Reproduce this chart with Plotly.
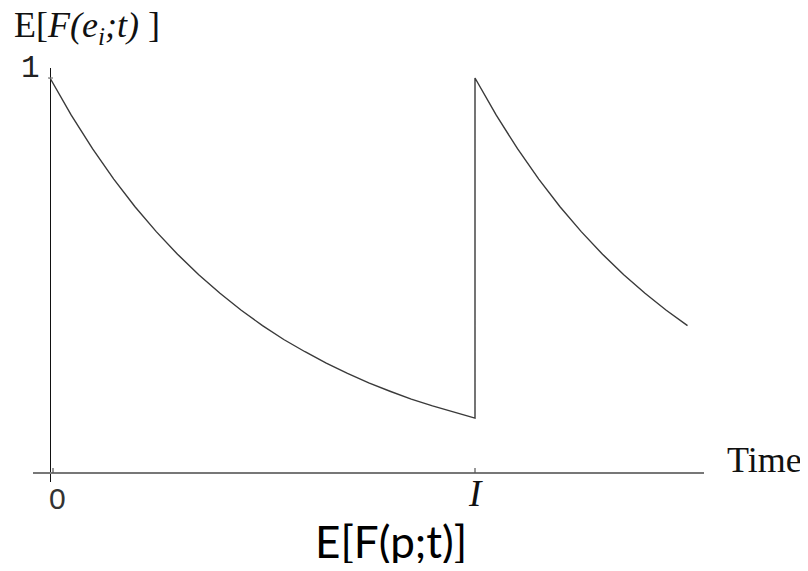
import plotly.graph_objects as go

# Values (time in units of the interval I)
seg1_t = [0.0, 0.05, 0.10, 0.15, 0.20, 0.25, 0.30, 0.35, 0.40, 0.45, 0.50,
          0.55, 0.60, 0.65, 0.70, 0.75, 0.80, 0.85, 0.90, 0.95, 1.00]
seg1_v = [1.000, 0.906, 0.821, 0.744, 0.674, 0.611, 0.554, 0.502, 0.455, 0.412, 0.373,
          0.338, 0.307, 0.278, 0.252, 0.228, 0.207, 0.187, 0.170, 0.154, 0.139]
seg2_t = [1.00, 1.05, 1.10, 1.15, 1.20, 1.25, 1.30, 1.35, 1.40, 1.45, 1.50]
seg2_v = [1.000, 0.906, 0.821, 0.744, 0.674, 0.611, 0.554, 0.502, 0.455, 0.412, 0.373]

x_tick_vals = [0, 1]
x_tick_text = ["0", "I"]
y_tick_vals = [1]
y_tick_text = ["1"]

# page body has an 8px margin; figure is sized to fit the window without scrolling
OFF = 8
W, H = 808 - 2 * OFF, 571 - 2 * OFF
ML, MT = 33 - OFF, 68 - OFF
PW, PH = 671, 414
MR, MB = W - ML - PW, H - MT - PH


def px(xp):  # reference window pixel -> paper x
    return (xp - OFF - ML) / PW


def py(yp):  # reference window pixel -> paper y
    return (MT + PH - (yp - OFF)) / PH


fig = go.Figure()
fig.add_trace(go.Scatter(
    x=seg1_t + seg2_t, y=seg1_v + seg2_v, mode="lines",
    line=dict(color="#3a3a3a", width=1.4), hoverinfo="skip", showlegend=False))

fig.update_layout(
    width=W, height=H,
    margin=dict(l=ML, r=MR, t=MT, b=MB, pad=0),
    paper_bgcolor="white", plot_bgcolor="white",
    xaxis=dict(range=[-17 / 425, 654 / 425], showgrid=False, showticklabels=False,
               showline=False, ticks="", zeroline=True, zerolinecolor="#111",
               zerolinewidth=1.3, fixedrange=True),
    yaxis=dict(range=[-9 / 395, 405 / 395], showgrid=False, showticklabels=False,
               showline=False, ticks="", zeroline=True, zerolinecolor="#777",
               zerolinewidth=1.6, fixedrange=True),
)

# small tick marks
shapes = []
for xv in x_tick_vals:
    off = 3 if xv == 0 else 0
    shapes.append(dict(type="line", xref="x", yref="y", xsizemode="pixel", xanchor=xv,
                       ysizemode="pixel", yanchor=0, x0=off, x1=off, y0=0, y1=5,
                       line=dict(color="#555", width=1.2)))
for yv in y_tick_vals:
    shapes.append(dict(type="line", xref="x", yref="y", xsizemode="pixel", xanchor=0,
                       x0=-2, x1=3, y0=yv, y1=yv, line=dict(color="#777", width=1.2)))
fig.update_layout(shapes=shapes)

ann = []
serif = "Liberation Serif"
# tick labels
ann.append(dict(x=0, y=py(498), xref="x", yref="paper", text=x_tick_text[0], xshift=7,
                showarrow=False, font=dict(family="Liberation Sans", size=30, color="#333"),
                xanchor="center", yanchor="middle"))
ann.append(dict(x=1, y=py(494), xref="x", yref="paper", text="<i>" + x_tick_text[1] + "</i>",
                showarrow=False, font=dict(family=serif, size=37, color="#111"),
                xanchor="center", yanchor="middle"))
ann.append(dict(x=px(30), y=1, xref="paper", yref="y", text=y_tick_text[0], yshift=10,
                showarrow=False, font=dict(family="Liberation Mono", size=31, color="#222"),
                xanchor="center", yanchor="middle"))
# axis titles
ann.append(dict(x=px(12), y=py(27), xref="paper", yref="paper",
                text="E[<i>F(e<sub>i</sub>;t)</i> ]", showarrow=False,
                font=dict(family=serif, size=36, color="#111"),
                xanchor="left", yanchor="middle"))
ann.append(dict(x=px(725), y=py(460), xref="paper", yref="paper", text="Time",
                showarrow=False, font=dict(family=serif, size=36, color="#111"),
                xanchor="left", yanchor="middle"))
ann.append(dict(x=px(391), y=py(541), xref="paper", yref="paper", text="E[F(p;t)]",
                showarrow=False, font=dict(family="Lato", size=44, color="#000"),
                xanchor="center", yanchor="middle"))
fig.update_layout(annotations=ann)

fig.write_html("out.html")
